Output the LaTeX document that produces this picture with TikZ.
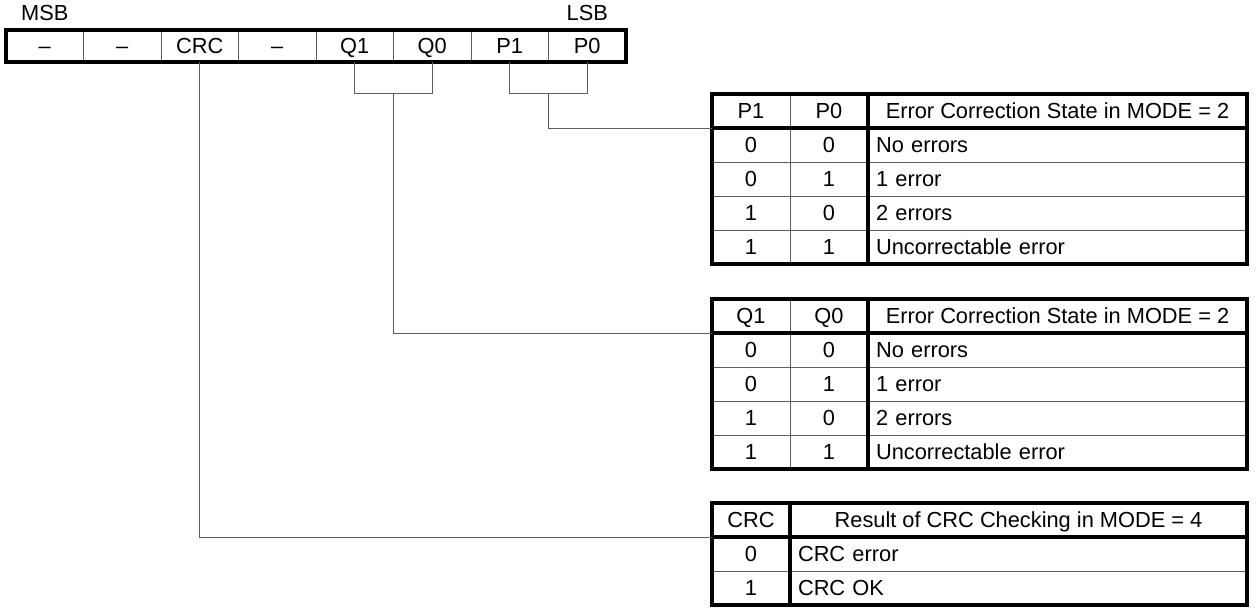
\documentclass[tikz,border=0pt]{standalone}
\usepackage{fontspec}
\setmainfont{Liberation Sans}
\usetikzlibrary{positioning, calc}
\definecolor{rule}{RGB}{95,95,95}

\begin{document}
\begin{tikzpicture}[
    x=0.5pt, y=-0.5pt,
    every node/.style={font=\fontsize{10.9}{13}\selectfont, outer sep=0pt, inner sep=0pt, text height=7.8pt, text depth=0pt},
    regcell/.style={rectangle, draw=rule, line width=0.5pt, minimum width=38.75pt, minimum height=16pt},
    bitcell/.style={rectangle, draw=rule, line width=0.5pt, minimum width=39pt, minimum height=17pt},
    headcell/.style={rectangle, draw=rule, line width=0.5pt, minimum width=#1, minimum height=17pt},
    desccell/.style={rectangle, draw=rule, line width=0.5pt, minimum height=17pt, inner xsep=4pt, text width=#1, align=left},
    frame/.style={line width=1.6pt, black},
    conn/.style={rule, line width=0.5pt},
]
\useasboundingbox (0,0) rectangle (1257,607);

% Register
\node[regcell] (r1) at (44.75,46) {–};
\node[regcell, right=0pt of r1] (r2) {–};
\node[regcell, right=0pt of r2] (r3) {CRC};
\node[regcell, right=0pt of r3] (r4) {–};
\node[regcell, right=0pt of r4] (r5) {Q1};
\node[regcell, right=0pt of r5] (r6) {Q0};
\node[regcell, right=0pt of r6] (r7) {P1};
\node[regcell, right=0pt of r7] (r8) {P0};
\node[above=5pt of r1] (msb) {MSB};
\node[above=5pt of r8] (lsb) {LSB};
\draw[frame] (r1.north west) rectangle (r8.south east);

% P table
\node[bitcell] (pa1) at (751,111) {P1};
\node[bitcell, right=0pt of pa1] (pb1) {P0};
\node[headcell=189.5pt, right=0pt of pb1] (pc1) {Error Correction State in MODE = 2};
\node[bitcell, below=0pt of pa1] (pa2) {0};
\node[bitcell, right=0pt of pa2] (pb2) {0};
\node[desccell=181.5pt, right=0pt of pb2] (pc2) {No errors};
\node[bitcell, below=0pt of pa2] (pa3) {0};
\node[bitcell, right=0pt of pa3] (pb3) {1};
\node[desccell=181.5pt, right=0pt of pb3] (pc3) {1 error};
\node[bitcell, below=0pt of pa3] (pa4) {1};
\node[bitcell, right=0pt of pa4] (pb4) {0};
\node[desccell=181.5pt, right=0pt of pb4] (pc4) {2 errors};
\node[bitcell, below=0pt of pa4] (pa5) {1};
\node[bitcell, right=0pt of pa5] (pb5) {1};
\node[desccell=181.5pt, right=0pt of pb5] (pc5) {Uncorrectable error};
\draw[frame] (pa1.north west) rectangle (pc5.south east);
\draw[frame] (pa1.south west) -- (pc1.south east);
\draw[frame] (pc1.north west) -- (pc5.south west);

% Q table
\node[bitcell, below=17.5pt of pa5] (qa1) {Q1};
\node[bitcell, right=0pt of qa1] (qb1) {Q0};
\node[headcell=189.5pt, right=0pt of qb1] (qc1) {Error Correction State in MODE = 2};
\node[bitcell, below=0pt of qa1] (qa2) {0};
\node[bitcell, right=0pt of qa2] (qb2) {0};
\node[desccell=181.5pt, right=0pt of qb2] (qc2) {No errors};
\node[bitcell, below=0pt of qa2] (qa3) {0};
\node[bitcell, right=0pt of qa3] (qb3) {1};
\node[desccell=181.5pt, right=0pt of qb3] (qc3) {1 error};
\node[bitcell, below=0pt of qa3] (qa4) {1};
\node[bitcell, right=0pt of qa4] (qb4) {0};
\node[desccell=181.5pt, right=0pt of qb4] (qc4) {2 errors};
\node[bitcell, below=0pt of qa4] (qa5) {1};
\node[bitcell, right=0pt of qa5] (qb5) {1};
\node[desccell=181.5pt, right=0pt of qb5] (qc5) {Uncorrectable error};
\draw[frame] (qa1.north west) rectangle (qc5.south east);
\draw[frame] (qa1.south west) -- (qc1.south east);
\draw[frame] (qc1.north west) -- (qc5.south west);

% CRC table
\node[bitcell, below=17pt of qa5] (ca1) {CRC};
\node[headcell=228.5pt, right=0pt of ca1] (cb1) {Result of CRC Checking in MODE = 4};
\node[bitcell, below=0pt of ca1] (ca2) {0};
\node[desccell=220.5pt, right=0pt of ca2] (cb2) {CRC error};
\node[bitcell, below=0pt of ca2] (ca3) {1};
\node[desccell=220.5pt, right=0pt of ca3] (cb3) {CRC OK};
\draw[frame] (ca1.north west) rectangle (cb3.south east);
\draw[frame] (ca1.south west) -- (cb1.south east);
\draw[frame] (cb1.north west) -- (cb3.south west);

% Connectors
\draw[conn] (r5.south) -- ++(0,31) -| (r6.south);
\draw[conn] (r7.south) -- ++(0,31) -| (r8.south);
\coordinate (qfork) at ($(r5.south)!0.5!(r6.south)+(0,31)$);
\coordinate (pfork) at ($(r7.south)!0.5!(r8.south)+(0,31)$);
\draw[conn] (pfork) |- (pa1.south west);
\draw[conn] (qfork) |- (qa1.south west);
\draw[conn] (r3.south) |- (ca1.south west);

\end{tikzpicture}
\end{document}
